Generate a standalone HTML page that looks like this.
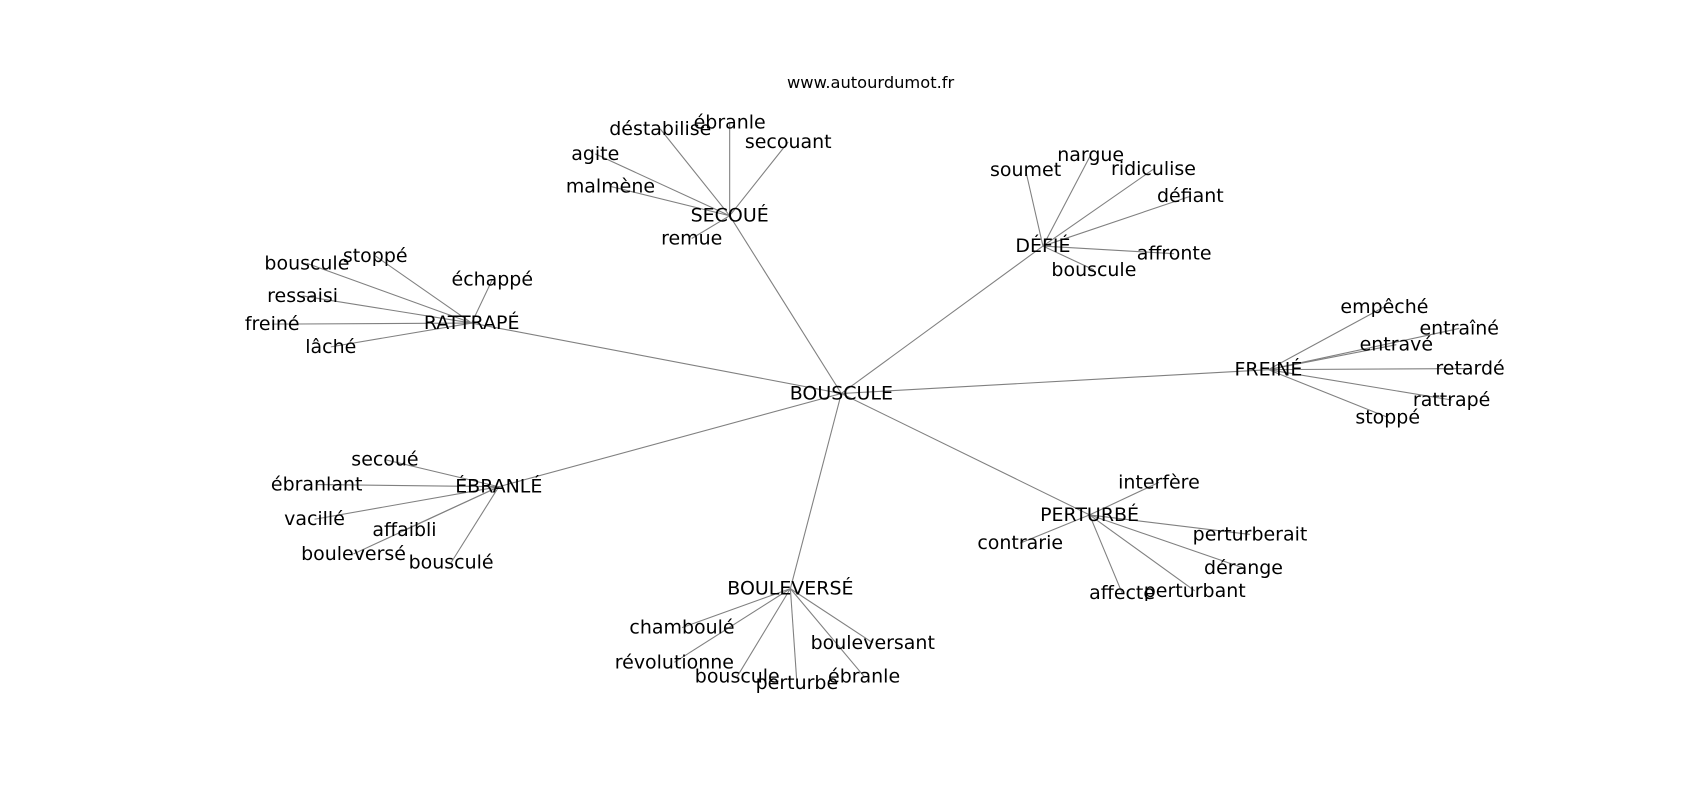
<!DOCTYPE html>
<html><head><meta charset="utf-8"><style>
html,body{margin:0;padding:0;background:#fff;width:1700px;height:800px;overflow:hidden}
svg{display:block}
text{font-family:"DejaVu Sans","Liberation Sans",sans-serif;font-size:17.5px;fill:#000;text-anchor:middle;dominant-baseline:central}
line{stroke:#808080;stroke-width:1}
</style></head><body>
<svg width="1700" height="800" viewBox="0 0 1568 738" xmlns="http://www.w3.org/2000/svg">
<text x="803" y="76" style="font-size:15px">www.autourdumot.fr</text>
<g>
<line x1="776" y1="363" x2="673" y2="199"/>
<line x1="776" y1="363" x2="962" y2="227"/>
<line x1="776" y1="363" x2="435" y2="298"/>
<line x1="776" y1="363" x2="1170" y2="341"/>
<line x1="776" y1="363" x2="460" y2="449"/>
<line x1="776" y1="363" x2="729" y2="543"/>
<line x1="776" y1="363" x2="1005" y2="475"/>

<line x1="673" y1="199" x2="609" y2="119"/>
<line x1="673" y1="199" x2="673" y2="113"/>
<line x1="673" y1="199" x2="727" y2="131"/>
<line x1="673" y1="199" x2="549" y2="142"/>
<line x1="673" y1="199" x2="563" y2="172"/>
<line x1="673" y1="199" x2="638" y2="220"/>

<line x1="962" y1="227" x2="946" y2="157"/>
<line x1="962" y1="227" x2="1006" y2="143"/>
<line x1="962" y1="227" x2="1064" y2="156"/>
<line x1="962" y1="227" x2="1098" y2="181"/>
<line x1="962" y1="227" x2="1083" y2="234"/>
<line x1="962" y1="227" x2="1009" y2="249"/>

<line x1="435" y1="298" x2="283" y2="243"/>
<line x1="435" y1="298" x2="346" y2="236"/>
<line x1="435" y1="298" x2="454" y2="258"/>
<line x1="435" y1="298" x2="279" y2="273"/>
<line x1="435" y1="298" x2="251" y2="299"/>
<line x1="435" y1="298" x2="305" y2="320"/>

<line x1="1170" y1="341" x2="1277" y2="283"/>
<line x1="1170" y1="341" x2="1346" y2="303"/>
<line x1="1170" y1="341" x2="1288" y2="318"/>
<line x1="1170" y1="341" x2="1356" y2="340"/>
<line x1="1170" y1="341" x2="1339" y2="369"/>
<line x1="1170" y1="341" x2="1280" y2="385"/>

<line x1="460" y1="449" x2="355" y2="424"/>
<line x1="460" y1="449" x2="292" y2="447"/>
<line x1="460" y1="449" x2="290" y2="479"/>
<line x1="460" y1="449" x2="373" y2="489"/>
<line x1="460" y1="449" x2="326" y2="511"/>
<line x1="460" y1="449" x2="416" y2="519"/>

<line x1="729" y1="543" x2="629" y2="579"/>
<line x1="729" y1="543" x2="622" y2="611"/>
<line x1="729" y1="543" x2="680" y2="624"/>
<line x1="729" y1="543" x2="735" y2="630"/>
<line x1="729" y1="543" x2="797" y2="624"/>
<line x1="729" y1="543" x2="805" y2="593"/>

<line x1="1005" y1="475" x2="1069" y2="445"/>
<line x1="1005" y1="475" x2="941" y2="501"/>
<line x1="1005" y1="475" x2="1153" y2="493"/>
<line x1="1005" y1="475" x2="1147" y2="524"/>
<line x1="1005" y1="475" x2="1035" y2="547"/>
<line x1="1005" y1="475" x2="1102" y2="545"/>
</g>
<g>
<text x="776" y="363">BOUSCULE</text>
<text x="673" y="199">SECOUÉ</text>
<text x="962" y="227">DÉFIÉ</text>
<text x="435" y="298">RATTRAPÉ</text>
<text x="1170" y="341">FREINÉ</text>
<text x="460" y="449">ÉBRANLÉ</text>
<text x="729" y="543">BOULEVERSÉ</text>
<text x="1005" y="475">PERTURBÉ</text>

<text x="609" y="119">déstabilise</text>
<text x="673" y="113">ébranle</text>
<text x="727" y="131">secouant</text>
<text x="549" y="142">agite</text>
<text x="563" y="172">malmène</text>
<text x="638" y="220">remue</text>

<text x="946" y="157">soumet</text>
<text x="1006" y="143">nargue</text>
<text x="1064" y="156">ridiculise</text>
<text x="1098" y="181">défiant</text>
<text x="1083" y="234">affronte</text>
<text x="1009" y="249">bouscule</text>

<text x="283" y="243">bouscule</text>
<text x="346" y="236">stoppé</text>
<text x="454" y="258">échappé</text>
<text x="279" y="273">ressaisi</text>
<text x="251" y="299">freiné</text>
<text x="305" y="320">lâché</text>

<text x="1277" y="283">empêché</text>
<text x="1346" y="303">entraîné</text>
<text x="1288" y="318">entravé</text>
<text x="1356" y="340">retardé</text>
<text x="1339" y="369">rattrapé</text>
<text x="1280" y="385">stoppé</text>

<text x="355" y="424">secoué</text>
<text x="292" y="447">ébranlant</text>
<text x="290" y="479">vacillé</text>
<text x="373" y="489">affaibli</text>
<text x="326" y="511">bouleversé</text>
<text x="416" y="519">bousculé</text>

<text x="629" y="579">chamboulé</text>
<text x="622" y="611">révolutionne</text>
<text x="680" y="624">bouscule</text>
<text x="735" y="630">perturbe</text>
<text x="797" y="624">ébranle</text>
<text x="805" y="593">bouleversant</text>

<text x="1069" y="445">interfère</text>
<text x="941" y="501">contrarie</text>
<text x="1153" y="493">perturberait</text>
<text x="1147" y="524">dérange</text>
<text x="1035" y="547">affecte</text>
<text x="1102" y="545">perturbant</text>
</g>
</svg>
</body></html>
